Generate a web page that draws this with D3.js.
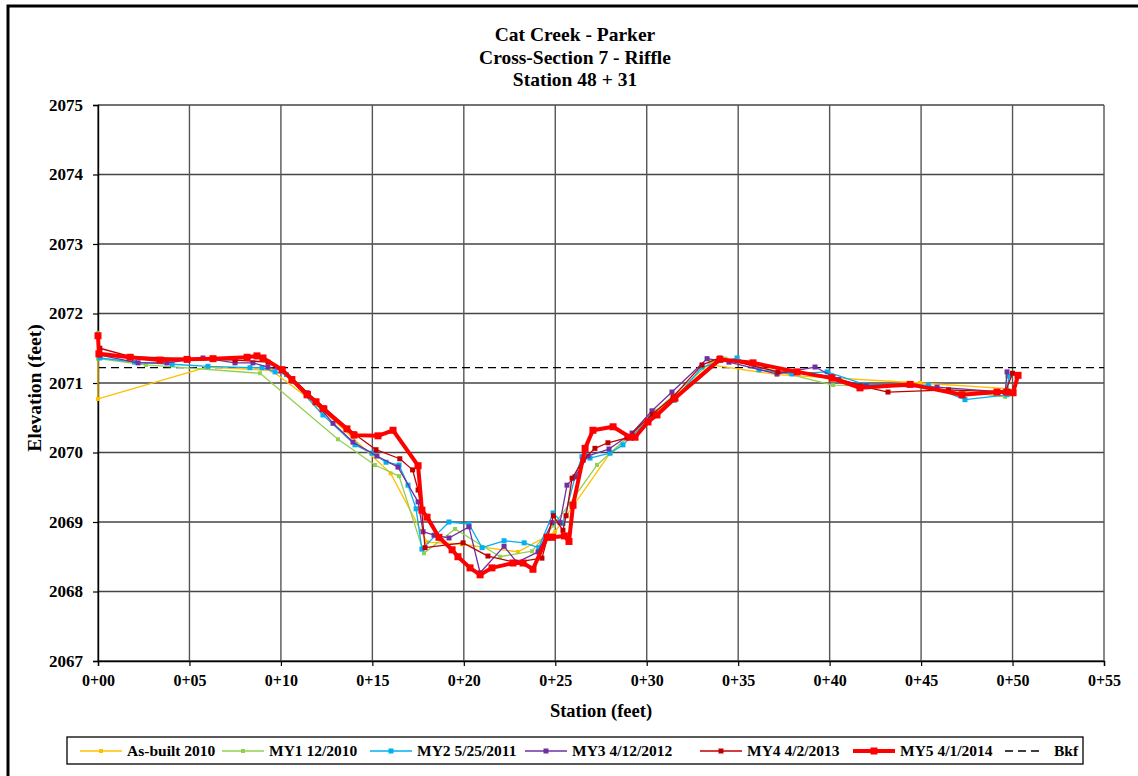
<!DOCTYPE html>
<html>
<head>
<meta charset="utf-8">
<script src="https://cdn.jsdelivr.net/npm/d3@7"></script>
<style>
  body { margin: 0; background: #fff; }
  text { font-family: "Liberation Serif", "Times New Roman", serif; font-weight: bold; fill: #000; }
</style>
</head>
<body>
<div id="chart"></div>
<script>

// survey shots: [station (ft), elevation (ft)]
var asBuilt2010 = [[0,2071.4],[0,2070.77],[5.96,2071.23],[9.5,2071.18],[12.0,2070.68],[16.0,2069.7],[17.99,2068.71],[19.9,2068.68],[22.96,2068.57],[24.99,2068.86],[28.0,2069.99],[33.5,2071.26],[37.12,2071.12],[44.94,2071.0],[49.7,2070.92]];

var my1 = [[0,2071.72],[0,2071.35],[2.62,2071.26],[8.86,2071.14],[13.12,2070.19],[15.14,2069.82],[16.46,2069.66],[17.82,2068.55],[19.52,2068.9],[21.98,2068.5],[23.73,2068.58],[24.9,2068.95],[25.8,2069.27],[27.28,2069.82],[28.0,2069.99],[30.5,2070.6],[33.5,2071.3],[34.3,2071.35],[40.19,2070.97],[45.0,2070.95],[49.59,2070.8],[49.7,2071.1]];

var my2 = [[0.1,2071.36],[2.0,2071.3],[4.05,2071.27],[6.01,2071.24],[8.31,2071.22],[8.97,2071.22],[9.68,2071.16],[10.3,2071.12],[12.3,2070.54],[14.05,2070.11],[14.98,2069.99],[15.75,2069.86],[16.46,2069.82],[16.95,2069.53],[17.39,2069.19],[17.71,2068.61],[19.19,2069.0],[20.28,2068.97],[21.0,2068.63],[22.2,2068.73],[23.3,2068.7],[24.1,2068.63],[24.88,2069.13],[25.42,2068.98],[26.08,2069.65],[26.46,2069.94],[26.9,2069.92],[27.99,2069.99],[28.7,2070.11],[30.2,2070.5],[31.5,2070.75],[33.02,2071.23],[34.94,2071.36],[36.14,2071.19],[37.94,2071.13],[39.86,2071.16],[41.9,2070.98],[45.4,2070.97],[47.4,2070.76],[49.7,2070.83],[49.8,2071.1]];

var my3 = [[0.1,2071.4],[2.19,2071.29],[3.77,2071.29],[5.74,2071.36],[7.49,2071.29],[8.47,2071.29],[9.29,2071.23],[10.1,2071.18],[11.43,2070.86],[12.85,2070.42],[13.94,2070.15],[15.25,2069.95],[16.4,2069.79],[17.5,2069.29],[17.77,2068.86],[18.37,2068.81],[19.19,2068.77],[20.28,2068.93],[20.89,2068.27],[22.2,2068.65],[22.9,2068.42],[24.06,2068.57],[24.82,2068.99],[25.26,2068.99],[25.64,2069.53],[26.08,2069.65],[26.79,2069.95],[27.94,2070.05],[29.2,2070.28],[30.29,2070.6],[31.38,2070.87],[33.3,2071.35],[34.5,2071.3],[37.12,2071.13],[39.2,2071.23],[40.5,2071.05],[42.0,2070.96],[45.87,2070.94],[49.6,2070.87],[49.7,2071.16]];

var my4 = [[0.1,2071.5],[1.8,2071.38],[4.9,2071.35],[7.5,2071.33],[9.3,2071.3],[10.1,2071.2],[11.5,2070.85],[12.4,2070.64],[14.0,2070.27],[15.2,2070.04],[16.5,2069.91],[17.2,2069.75],[17.5,2069.46],[17.7,2069.17],[17.88,2068.63],[19.96,2068.7],[21.32,2068.51],[22.8,2068.42],[24.27,2068.48],[24.9,2069.09],[25.42,2068.88],[25.59,2069.09],[25.92,2069.63],[26.52,2069.89],[27.17,2070.06],[27.88,2070.14],[28.92,2070.21],[30.3,2070.55],[31.44,2070.8],[33.02,2071.26],[34.0,2071.36],[37.18,2071.16],[38.2,2071.16],[40.1,2071.09],[41.7,2070.96],[43.19,2070.87],[46.5,2070.9],[49.6,2070.87],[50.0,2071.14]];

var my5 = [[0,2071.68],[0.05,2071.42],[1.75,2071.37],[3.39,2071.33],[4.87,2071.34],[6.29,2071.35],[8.15,2071.37],[8.69,2071.39],[9.02,2071.36],[10.06,2071.19],[10.6,2071.05],[11.43,2070.83],[11.92,2070.73],[12.3,2070.63],[13.61,2070.34],[14.0,2070.25],[15.31,2070.24],[16.13,2070.32],[17.5,2069.81],[17.71,2069.17],[17.99,2069.07],[18.64,2068.78],[19.36,2068.6],[19.68,2068.5],[20.34,2068.34],[20.89,2068.24],[21.54,2068.34],[22.69,2068.41],[23.24,2068.41],[23.78,2068.32],[24.55,2068.78],[24.85,2068.78],[25.5,2068.8],[25.75,2068.72],[25.97,2069.24],[26.63,2070.06],[27.06,2070.32],[28.16,2070.37],[29.09,2070.22],[29.36,2070.22],[30.07,2070.44],[30.56,2070.54],[31.54,2070.78],[34.0,2071.34],[35.81,2071.29],[38.22,2071.16],[40.13,2071.07],[41.66,2070.93],[44.4,2070.98],[47.24,2070.83],[49.15,2070.87],[49.7,2070.87],[50.03,2070.86],[50.3,2071.11]];

var bkfElevation = 2071.22;
var bkfStations = [0, 55];

var xTicks = [0, 5, 10, 15, 20, 25, 30, 35, 40, 45, 50, 55];
var yTicks = [2067, 2068, 2069, 2070, 2071, 2072, 2073, 2074, 2075];

var titleLines = ["Cat Creek - Parker", "Cross-Section 7 - Riffle", "Station 48 + 31"];

var series = [
  {name: "As-built 2010",  data: asBuilt2010, color: "#FFC000", width: 1.3, size: 4},
  {name: "MY1 12/2010",    data: my1,         color: "#92D050", width: 1.3, size: 4},
  {name: "MY2 5/25/2011",  data: my2,         color: "#00B0F0", width: 1.3, size: 5},
  {name: "MY3 4/12/2012",  data: my3,         color: "#7030A0", width: 1.3, size: 5},
  {name: "MY4 4/2/2013",   data: my4,         color: "#C00000", width: 1.3, size: 5},
  {name: "MY5 4/1/2014",   data: my5,         color: "#FF0000", width: 4,   size: 7}
];

// set the dimensions and margins of the graph
var margin = {top: 105, left: 98},
    width = 1006,
    height = 556;

var x = d3.scaleLinear().domain([0, 55]).range([0, width]);
var y = d3.scaleLinear().domain([2067, 2075]).range([height, 0]);

var svg = d3.select("#chart").append("svg")
    .attr("width", 1138)
    .attr("height", 776);

// outer frame
svg.append("rect")
    .attr("x", 8).attr("y", 6)
    .attr("width", 1200).attr("height", 900)
    .attr("fill", "none").attr("stroke", "#000").attr("stroke-width", 3);

// titles
svg.selectAll(".title").data(titleLines).enter().append("text")
    .attr("class", "title")
    .attr("x", 575)
    .attr("y", function(d, i) { return 41 + i * 22.5; })
    .attr("text-anchor", "middle")
    .style("font-size", "19.5px")
    .text(function(d) { return d; });

var plot = svg.append("g")
    .attr("transform", "translate(" + margin.left + "," + margin.top + ")");

// grid
plot.selectAll(".hgrid").data(yTicks).enter().append("line")
    .attr("x1", 0).attr("x2", width)
    .attr("y1", function(d) { return y(d); }).attr("y2", function(d) { return y(d); })
    .attr("stroke", "#444").attr("stroke-width", 1.4);

plot.selectAll(".vgrid").data(xTicks).enter().append("line")
    .attr("y1", 0).attr("y2", height)
    .attr("x1", function(d) { return x(d); }).attr("x2", function(d) { return x(d); })
    .attr("stroke", "#555").attr("stroke-width", 1.4);

// axes
var xAxis = plot.append("g")
    .attr("transform", "translate(0," + height + ")")
    .call(d3.axisBottom(x).tickValues(xTicks).tickSize(5).tickPadding(9)
      .tickFormat(function(d) { return "0+" + d3.format("02")(d); }));

var yAxis = plot.append("g")
    .call(d3.axisLeft(y).tickValues(yTicks).tickSize(5).tickPadding(10).tickFormat(d3.format("d")));

xAxis.selectAll("text").style("font-size", "16px");
yAxis.selectAll("text").style("font-size", "17px");
plot.selectAll(".domain").attr("stroke", "#000").attr("stroke-width", 1.4);
plot.selectAll(".tick line").attr("stroke", "#000").attr("stroke-width", 1.2);

// axis titles
svg.append("text")
    .attr("x", 601).attr("y", 717)
    .attr("text-anchor", "middle")
    .style("font-size", "18.5px")
    .text("Station (feet)");

svg.append("text")
    .attr("transform", "translate(41,388) rotate(-90)")
    .attr("text-anchor", "middle")
    .style("font-size", "19.5px")
    .text("Elevation (feet)");

// bankfull
plot.append("line")
    .attr("x1", x(bkfStations[0])).attr("x2", x(bkfStations[1]))
    .attr("y1", y(bkfElevation)).attr("y2", y(bkfElevation))
    .attr("stroke", "#000").attr("stroke-width", 1.3)
    .attr("stroke-dasharray", "8,5");

var valueline = d3.line()
    .x(function(d) { return x(d[0]); })
    .y(function(d) { return y(d[1]); });

series.forEach(function(s) {
  plot.append("path")
      .datum(s.data)
      .attr("d", valueline)
      .attr("fill", "none")
      .attr("stroke", s.color)
      .attr("stroke-width", s.width)
      .attr("stroke-linejoin", "round");

  plot.selectAll(null).data(s.data).enter().append("rect")
      .attr("x", function(d) { return x(d[0]) - s.size / 2; })
      .attr("y", function(d) { return y(d[1]) - s.size / 2; })
      .attr("width", s.size).attr("height", s.size)
      .attr("fill", s.color);
});

// legend
var legend = svg.append("g");
legend.append("rect")
    .attr("x", 67).attr("y", 737)
    .attr("width", 1016).attr("height", 27)
    .attr("fill", "#fff").attr("stroke", "#000").attr("stroke-width", 1.3);

var legendX = [80, 222, 370, 525, 700, 853];

series.forEach(function(s, i) {
  var lx = legendX[i];
  legend.append("line")
      .attr("x1", lx).attr("x2", lx + 42)
      .attr("y1", 751).attr("y2", 751)
      .attr("stroke", s.color).attr("stroke-width", s.width);
  legend.append("rect")
      .attr("x", lx + 21 - s.size / 2).attr("y", 751 - s.size / 2)
      .attr("width", s.size).attr("height", s.size)
      .attr("fill", s.color);
  legend.append("text")
      .attr("x", lx + 47).attr("y", 756)
      .style("font-size", "15.5px")
      .text(s.name);
});

legend.append("line")
    .attr("x1", 1005).attr("x2", 1043)
    .attr("y1", 751).attr("y2", 751)
    .attr("stroke", "#000").attr("stroke-width", 1.3)
    .attr("stroke-dasharray", "8,5");
legend.append("text")
    .attr("x", 1054).attr("y", 756)
    .style("font-size", "15.5px")
    .text("Bkf");

</script>
</body>
</html>
